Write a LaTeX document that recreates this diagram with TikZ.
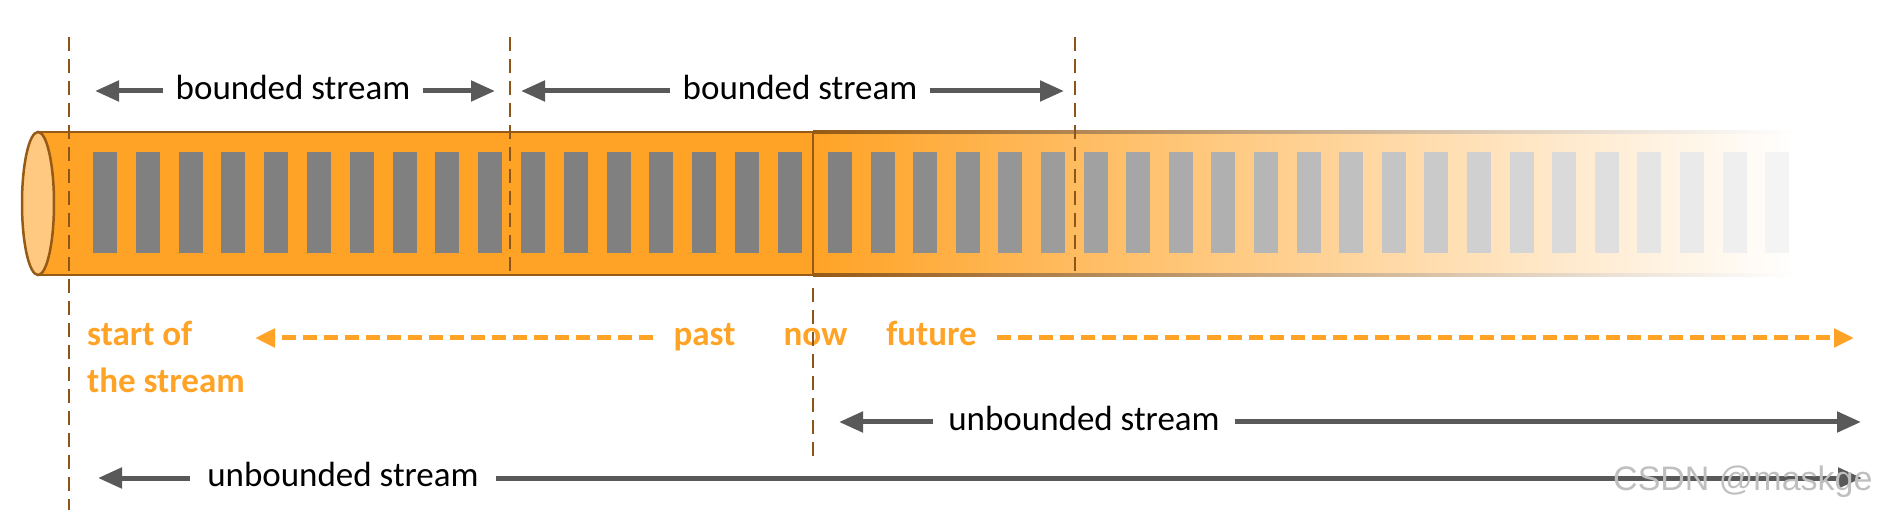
\documentclass[tikz,border=0pt]{standalone}
\usepackage{fontspec}
\setmainfont{Carlito}
\newfontfamily\wmfont{Liberation Sans}
\usetikzlibrary{arrows.meta}
\definecolor{torange}{RGB}{255,163,38}
\definecolor{tlight}{RGB}{255,201,130}
\definecolor{tbrown}{RGB}{150,90,20}
\definecolor{dbrown}{RGB}{140,85,25}
\definecolor{agray}{RGB}{89,89,89}
\begin{document}
\begin{tikzpicture}[x=1pt,y=-1pt,
  lbl/.style={font=\fontsize{35}{42}\selectfont, text=black, inner xsep=12pt, inner ysep=0pt, anchor=base},
  olbl/.style={font=\fontsize{35}{42}\selectfont\bfseries, text=torange, inner xsep=20pt, inner ysep=0pt, anchor=base},
  garrow/.style={draw=agray, line width=5pt, -{Triangle[length=24pt,width=20pt]}},
  oarrow/.style={draw=torange, line width=5pt, dash pattern=on 14pt off 7pt, -{Triangle[length=20pt,width=18pt]}},
  vdash/.style={draw=dbrown, line width=2.5pt, dash pattern=on 14pt off 8pt},
  edge/.style={draw=tbrown, line width=2.5pt}
]
\useasboundingbox (0,0) rectangle (1877,510);
% tube body
\fill[torange] (38,132) rectangle (813,275);
\shade[left color=torange, right color=white] (813,132) rectangle (1795,275);
% edges
\draw[edge] (38,132) -- (813,132);
\draw[edge] (38,275) -- (813,275);
\shade[left color=tbrown, right color=white] (813,130.75) rectangle (1795,133.25);
\shade[left color=tbrown, right color=white] (813,273.75) rectangle (1795,276.25);
% bars
\foreach \k in {0,...,16} {
  \fill[black!50] ({93+42.8*\k},152) rectangle ++(24,101);
}
\foreach \j in {0,...,22} {
  \pgfmathsetmacro\bx{828+42.6*\j}
  \pgfmathsetmacro\bt{(\bx-813)/977}
  \pgfmathsetmacro\bv{max(50-47*\bt,1)}
  \fill[black!\bv] (\bx,152) rectangle ++(24,101);
}
% left cap
\draw[fill=tlight, draw=tbrown, line width=2.5pt] (38,203.5) ellipse [x radius=16, y radius=71.5];
% now separator
\draw[edge] (813,132) -- (813,275);
% labels
\node[lbl] (b1) at (293,99.5) {bounded stream};
\coordinate (b1l) at (95,91);
\coordinate (b1r) at (495,91);
\draw[garrow] (b1.west |- b1l) -- (b1l);
\draw[garrow] (b1.east |- b1r) -- (b1r);
\node[lbl] (b2) at (800,99.5) {bounded stream};
\coordinate (b2l) at (521,91);
\coordinate (b2r) at (1064,91);
\draw[garrow] (b2.west |- b2l) -- (b2l);
\draw[garrow] (b2.east |- b2r) -- (b2r);
\node[lbl, inner xsep=15pt] (u1) at (1084,430.5) {unbounded stream};
\coordinate (u1l) at (839,422);
\coordinate (u1r) at (1861,422);
\draw[garrow] (u1.west |- u1l) -- (u1l);
\draw[garrow] (u1.east |- u1r) -- (u1r);
\node[lbl, inner xsep=17pt] (u2) at (343,486.5) {unbounded stream};
\coordinate (u2l) at (98,478);
\coordinate (u2r) at (1862,478);
\draw[garrow] (u2.west |- u2l) -- (u2l);
\draw[garrow] (u2.east |- u2r) -- (u2r);
\node[olbl, anchor=base west, inner xsep=0pt] (st1) at (87,346) {start of};
\node[olbl, anchor=base west, inner xsep=0pt] (st2) at (87,393) {the stream};
\node[olbl] (past) at (704.5,346) {past};
\coordinate (pastend) at (255,338);
\draw[oarrow] (past.west |- pastend) -- (pastend);
\node[olbl] (now) at (815.5,346) {now};
\node[olbl] (fut) at (931.5,346) {future};
\coordinate (futend) at (1854,338);
\draw[oarrow] (fut.east |- futend) -- (futend);
% dashed markers
\draw[vdash] (69,37) -- (69,510);
\draw[vdash] (510,37) -- (510,275);
\draw[vdash] (1075,37) -- (1075,275);
\draw[vdash] (813,288) -- (813,457);
% watermark
\node[font=\wmfont\fontsize{34}{40}\selectfont, text=black!25, anchor=base west, inner sep=0pt] (wm) at (1613,490) {CSDN @maskge};
\end{tikzpicture}
\end{document}
